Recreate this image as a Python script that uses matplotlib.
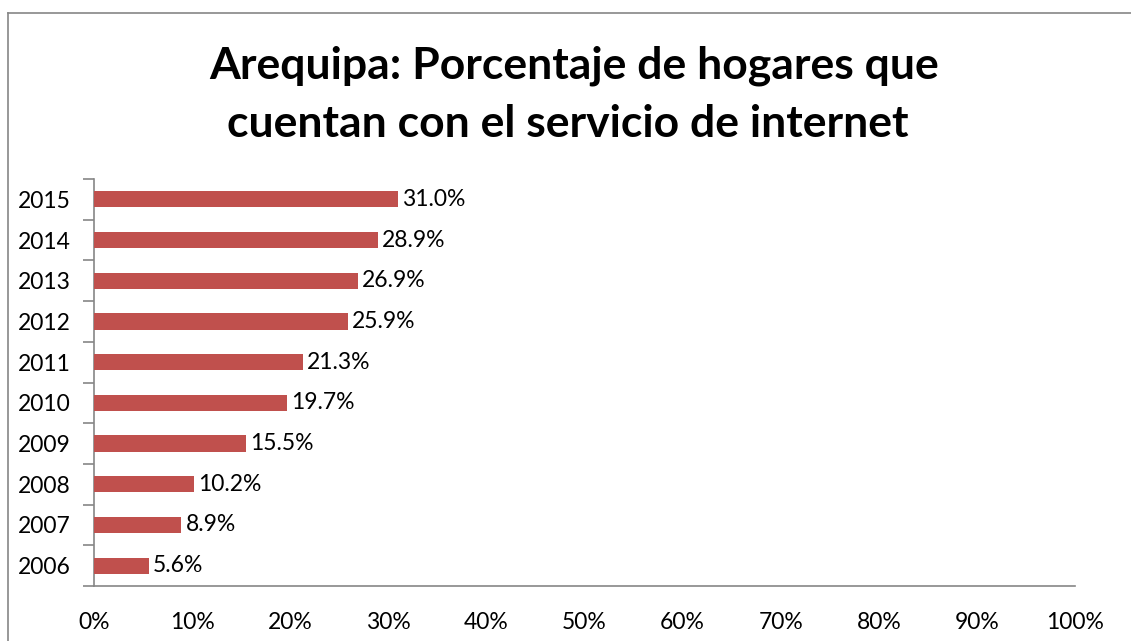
import matplotlib.pyplot as plt
from matplotlib.lines import Line2D
from matplotlib.ticker import FuncFormatter

plt.rcParams["font.family"] = ["Lato", "DejaVu Sans"]

# data
YEARS = ["2006", "2007", "2008", "2009", "2010", "2011", "2012", "2013", "2014", "2015"]
VALUES = [5.6, 8.9, 10.2, 15.5, 19.7, 21.3, 25.9, 26.9, 28.9, 31.0]
XTICKS = [0, 10, 20, 30, 40, 50, 60, 70, 80, 90, 100]
TITLE = ["Arequipa: Porcentaje de hogares que", "cuentan con el servicio de internet"]

W, H = 1131, 641
fig = plt.figure(figsize=(W / 100, H / 100), dpi=100)
fig.patch.set_facecolor("white")

# chart frame (left and top edges visible, the rest runs off the picture)
frame_col = "#868686"
fig.add_artist(Line2D([8 / W, 8 / W], [0, 1 - 13 / H], color=frame_col, lw=1.2,
                      transform=fig.transFigure))
fig.add_artist(Line2D([8 / W, 1], [1 - 13 / H, 1 - 13 / H], color=frame_col, lw=1.2,
                      transform=fig.transFigure))

ax = fig.add_axes([94 / W, 1 - 586 / H, (1075 - 94) / W, (586 - 179) / H])

ypos = list(range(len(YEARS)))
ax.barh(ypos, VALUES, height=0.4, color="#C0504D", zorder=3)

for y, v in zip(ypos, VALUES):
    ax.annotate(f"{v:.1f}%", xy=(v, y), xytext=(3, 0), textcoords="offset points",
                ha="left", va="center", fontsize=16.5, color="black")

ax.set_xlim(0, 100)
ax.set_ylim(-0.5, len(YEARS) - 0.5)
ax.set_xticks(XTICKS)
ax.xaxis.set_major_formatter(FuncFormatter(lambda x, _: f"{x:.0f}%"))
ax.tick_params(axis="x", length=0, pad=19, labelsize=16.5)

# category boundaries as tick marks, labels in the middle
ax.set_yticks([i - 0.5 for i in range(len(YEARS) + 1)])
ax.set_yticklabels([])
ax.tick_params(axis="y", which="major", length=8, width=1.2, color="#868686", direction="out")
ax.set_yticks(ypos, minor=True)
ax.set_yticklabels(YEARS, minor=True)
ax.tick_params(axis="y", which="minor", length=0, pad=17, labelsize=16.5)

for s in ("top", "right"):
    ax.spines[s].set_visible(False)
for s in ("left", "bottom"):
    ax.spines[s].set_color("#868686")
    ax.spines[s].set_linewidth(1.2)

# two-line title, baselines as in the reference
fig.text(0.508, 1 - 78 / H, TITLE[0], ha="center", va="baseline",
         fontsize=32, fontweight="bold")
fig.text(0.502, 1 - 137 / H, TITLE[1], ha="center", va="baseline",
         fontsize=32, fontweight="bold")

fig.savefig("out.png", dpi=100, facecolor="white")
